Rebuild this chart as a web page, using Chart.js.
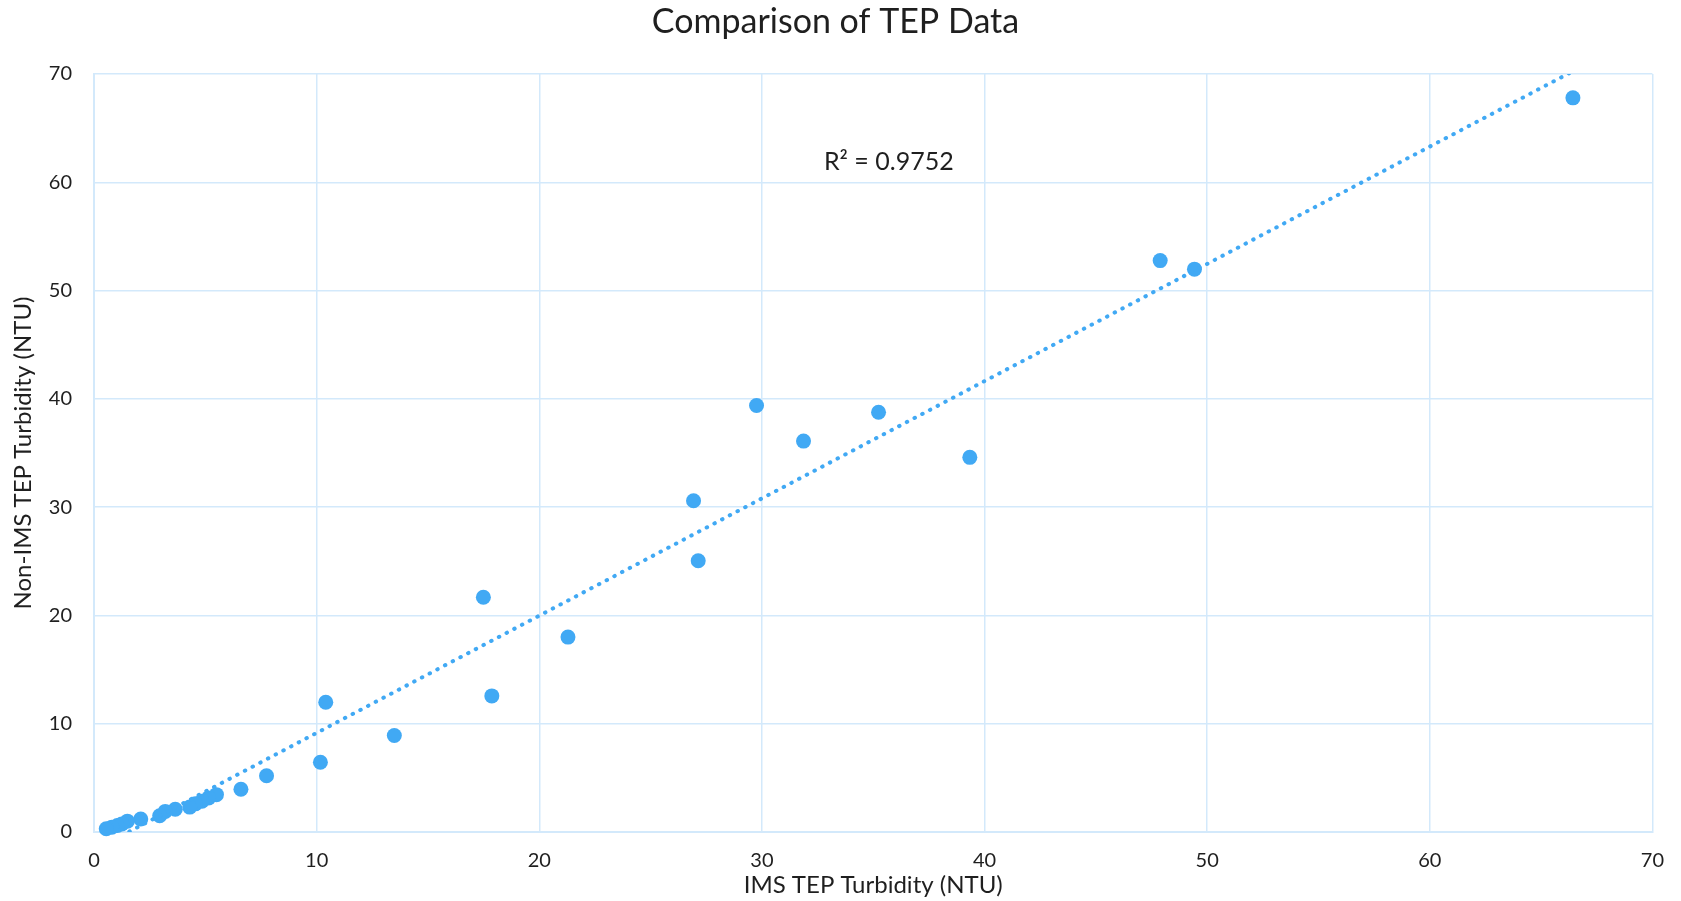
<!DOCTYPE html>
<html>
<head>
<meta charset="utf-8">
<title>Comparison of TEP Data</title>
<script src="https://cdn.jsdelivr.net/npm/chart.js@4.4.1/dist/chart.umd.min.js"></script>
<style>
  html, body { margin: 0; padding: 0; background: #ffffff; }
  #wrap { width: 1681px; height: 901px; position: relative; }
</style>
</head>
<body>
<div id="wrap"><canvas id="chart"></canvas></div>
<script>
// IMS TEP turbidity (NTU) for each sample
const imsTurbidity = [
  66.43, 47.89, 49.43, 29.76, 35.24, 31.87, 39.34, 26.93, 27.14, 17.49,
  21.29, 17.87, 10.41, 13.49, 10.17, 7.75, 6.60, 5.50, 5.15, 4.85,
  4.55, 4.30, 3.65, 3.20, 2.95, 2.10, 1.50, 1.25, 1.05, 0.80, 0.55
];
// Non-IMS TEP turbidity (NTU) for the same samples
const nonImsTurbidity = [
  67.80, 52.77, 51.98, 39.38, 38.76, 36.10, 34.60, 30.59, 25.05, 21.68,
  18.00, 12.57, 11.98, 8.91, 6.44, 5.20, 3.95, 3.45, 3.15, 2.85,
  2.60, 2.30, 2.10, 1.90, 1.50, 1.20, 1.00, 0.75, 0.60, 0.45, 0.30
];
const axisTicks = [0, 10, 20, 30, 40, 50, 60, 70];
const chartTitle = 'Comparison of TEP Data';
const rSquaredText = 'R² = 0.9752';

const pointColor = '#41a9f4';
const gridColor = '#d3e9fb';
const textColor = '#1f1f1f';
const fontFamily = 'Lato, "Open Sans", sans-serif';

const points = imsTurbidity.map((x, i) => ({ x: x, y: nonImsTurbidity[i] }));

// Least-squares linear trendline across the range of the data
function linearFit(xs, ys) {
  const n = xs.length;
  const mx = xs.reduce((a, b) => a + b, 0) / n;
  const my = ys.reduce((a, b) => a + b, 0) / n;
  let sxy = 0, sxx = 0;
  for (let i = 0; i < n; i++) {
    sxy += (xs[i] - mx) * (ys[i] - my);
    sxx += (xs[i] - mx) * (xs[i] - mx);
  }
  const slope = sxy / sxx;
  return { slope: slope, intercept: my - slope * mx };
}
const fit = linearFit(imsTurbidity, nonImsTurbidity);
const xMin = Math.min(...imsTurbidity);
const xMax = Math.max(...imsTurbidity);
const trendPoints = [
  { x: xMin, y: fit.slope * xMin + fit.intercept },
  { x: xMax, y: fit.slope * xMax + fit.intercept }
];

// Chart heading, centred on the page, and the R² note inside the plot
const annotations = {
  id: 'annotations',
  afterDatasetsDraw(chart) {
    const { ctx, chartArea, width } = chart;
    ctx.save();
    ctx.fillStyle = textColor;
    ctx.textAlign = 'center';
    ctx.textBaseline = 'middle';

    ctx.font = '34px ' + fontFamily;
    ctx.fillText(chartTitle, width / 2 - 5, 22);

    ctx.font = '25px ' + fontFamily;
    const x = chartArea.left + (chartArea.right - chartArea.left) * 0.51;
    const y = chartArea.top + 88;
    ctx.fillText(rSquaredText, x, y);
    ctx.restore();
  }
};

new Chart(document.getElementById('chart'), {
  type: 'scatter',
  data: {
    datasets: [
      {
        type: 'line',
        label: 'Linear trend',
        data: trendPoints,
        borderColor: pointColor,
        borderWidth: 4,
        borderDash: [0.5, 8.2],
        borderCapStyle: 'round',
        pointRadius: 0,
        fill: false,
        clip: 0,
        order: 0
      },
      {
        label: 'TEP turbidity',
        data: points,
        backgroundColor: pointColor,
        borderWidth: 0,
        pointRadius: 7.5,
        pointHoverRadius: 7.5,
        clip: false,
        order: 1
      }
    ]
  },
  options: {
    responsive: true,
    maintainAspectRatio: false,
    animation: false,
    layout: { padding: { left: 0, right: 28, top: 74, bottom: 0 } },
    plugins: {
      legend: { display: false },
      tooltip: { enabled: false },
      title: { display: false }
    },
    scales: {
      x: {
        type: 'linear',
        min: 0,
        max: 70,
        afterBuildTicks(scale) { scale.ticks = axisTicks.map(v => ({ value: v })); },
        afterFit(scale) { scale.height = 69; },
        grid: { color: gridColor, lineWidth: 1.5, drawTicks: false },
        border: { color: gridColor, width: 2 },
        ticks: {
          color: textColor,
          padding: 17,
          font: { family: fontFamily, size: 20 }
        },
        title: {
          display: true,
          text: 'IMS TEP Turbidity (NTU)',
          color: textColor,
          font: { family: fontFamily, size: 24 },
          padding: { top: 0, bottom: 1 }
        }
      },
      y: {
        type: 'linear',
        min: 0,
        max: 70,
        afterBuildTicks(scale) { scale.ticks = axisTicks.map(v => ({ value: v })); },
        afterFit(scale) { scale.width = 94; },
        grid: { color: gridColor, lineWidth: 1.5, drawTicks: false },
        border: { color: gridColor, width: 2 },
        ticks: {
          color: textColor,
          padding: 22,
          font: { family: fontFamily, size: 20 }
        },
        title: {
          display: true,
          text: 'Non-IMS TEP Turbidity (NTU)',
          color: textColor,
          font: { family: fontFamily, size: 24 },
          padding: { top: 9, bottom: 0 }
        }
      }
    }
  },
  plugins: [annotations]
});
</script>
</body>
</html>
